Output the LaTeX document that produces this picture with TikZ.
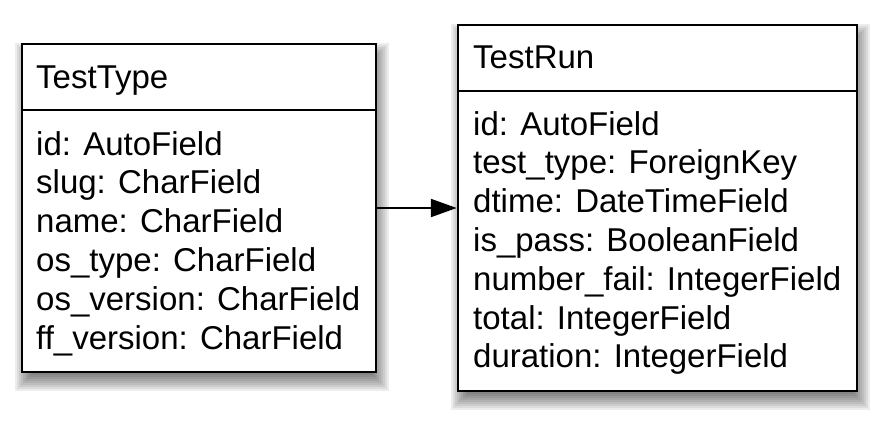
\documentclass[tikz,border=0pt]{standalone}
\usepackage{fontspec}
\setmainfont{Liberation Sans}
\usetikzlibrary{arrows.meta}
\tikzset{
  classbox/.style={draw=black, line width=2.5pt, fill=white, inner sep=0pt, rectangle},
  fieldtext/.style={anchor=base west, inner sep=0pt, font=\fontsize{33}{39}\selectfont},
  divider/.style={line width=2.5pt},
  assoc/.style={line width=2.2pt, -{Triangle[length=26pt,width=18pt]}},
}
\begin{document}
\begin{tikzpicture}[x=1pt,y=-1pt]
\useasboundingbox (0,0) rectangle (880,434);
% soft shadows
\foreach \e in {-8,-6,...,10}{
  \fill[black, opacity=0.07] (22+3-\e,44+9-\e) rectangle (376+3+\e,372+9+\e);
  \fill[black, opacity=0.07] (458+3-\e,25+9-\e) rectangle (857+3+\e,391+9+\e);
}
% boxes
\node[classbox, minimum width=354pt, minimum height=328pt] (testtype) at (199,208) {};
\node[classbox, minimum width=399pt, minimum height=366pt] (testrun) at (657.5,208) {};
\coordinate (ttdiv) at (0,110);
\coordinate (trdiv) at (0,91);
\draw[divider] (testtype.west |- ttdiv) -- (testtype.east |- ttdiv);
\draw[divider] (testrun.west |- trdiv) -- (testrun.east |- trdiv);
% left texts
\node[fieldtext] (tth) at (36,88) {TestType};
\node[fieldtext] (tt1) at (36,155) {id: AutoField};
\node[fieldtext] (tt2) at (36,193.8) {slug: CharField};
\node[fieldtext] (tt3) at (36,232.6) {name: CharField};
\node[fieldtext] (tt4) at (36,271.4) {os\_type: CharField};
\node[fieldtext] (tt5) at (36,310.2) {os\_version: CharField};
\node[fieldtext] (tt6) at (36,349) {ff\_version: CharField};
% right texts
\node[fieldtext] (trh) at (473,68) {TestRun};
\node[fieldtext] (tr1) at (473,135) {id: AutoField};
\node[fieldtext] (tr2) at (473,173.8) {test\_type: ForeignKey};
\node[fieldtext] (tr3) at (473,212.6) {dtime: DateTimeField};
\node[fieldtext] (tr4) at (473,251.4) {is\_pass: BooleanField};
\node[fieldtext] (tr5) at (473,290.2) {number\_fail: IntegerField};
\node[fieldtext] (tr6) at (473,329) {total: IntegerField};
\node[fieldtext] (tr7) at (473,367.8) {duration: IntegerField};
% association
\draw[assoc] (testtype.east) -- (testrun.west);
\end{tikzpicture}
\end{document}
